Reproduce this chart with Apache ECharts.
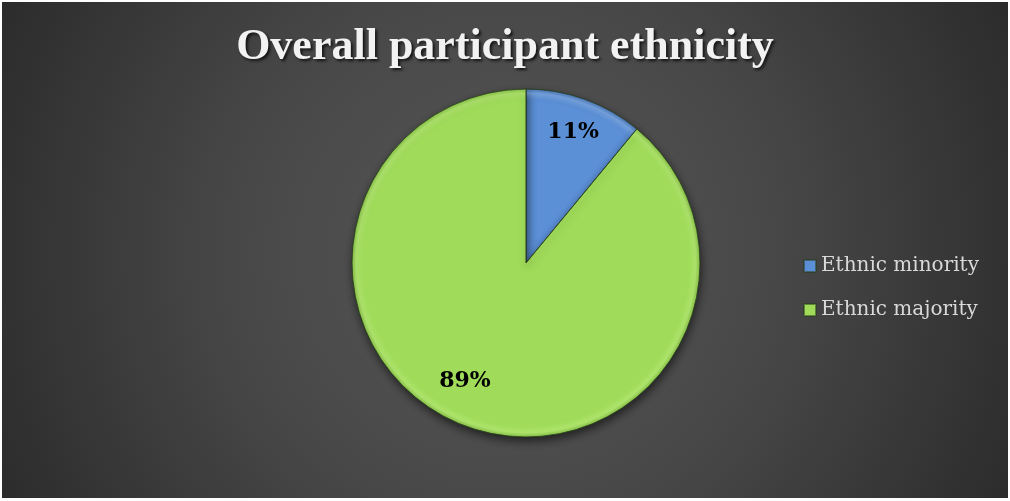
<!DOCTYPE html>
<html>
<head>
<meta charset="utf-8">
<script src="https://cdn.jsdelivr.net/npm/echarts@6/dist/echarts.min.js"></script>
<style>
  html, body { margin: 0; padding: 0; background: #ffffff; }
  #chart { position: absolute; left: 2px; top: 2px; width: 1006px; height: 496px; }
</style>
</head>
<body>
<div id="chart"></div>
<script>
// Participant ethnicity shares (percent)
const categories = ['Ethnic minority', 'Ethnic majority'];
const shares = [11, 89];
const sliceColors = ['#5b8fd6', '#a0dc5a'];
const titleText = 'Overall participant ethnicity';

const serif = '"DejaVu Serif", "Liberation Serif", serif';
const titleSerif = '"Liberation Serif", "DejaVu Serif", serif';

const CX = 524, CY = 261, R = 174;

// slightly bevelled rim, in chart pixel space so every slice shares it
function bevel(base, light, dark) {
  return {
    type: 'radial', x: CX, y: CY, r: R, global: true,
    colorStops: [
      { offset: 0, color: base },
      { offset: 0.94, color: base },
      { offset: 0.975, color: light },
      { offset: 1, color: dark }
    ]
  };
}
const fills = [
  bevel('#5b8fd6', '#76a3e0', '#4a78b8'),
  bevel('#a0dc5a', '#aee46c', '#88c248')
];

const pieData = categories.map((name, i) => ({
  name,
  value: shares[i],
  itemStyle: { color: fills[i] }
}));

const chart = echarts.init(document.getElementById('chart'));
chart.setOption({
  backgroundColor: {
    type: 'radial', x: 503, y: 250, r: 620, global: true,
    colorStops: [
      { offset: 0, color: '#575757' },
      { offset: 0.45, color: '#474747' },
      { offset: 1, color: '#262626' }
    ]
  },
  color: sliceColors,
  title: {
    text: titleText,
    left: 'center',
    top: 19,
    textStyle: {
      fontFamily: titleSerif,
      fontWeight: 'bold',
      fontSize: 44,
      color: '#f2f2f2',
      textShadowColor: 'rgba(0,0,0,0.75)',
      textShadowBlur: 3,
      textShadowOffsetX: 2,
      textShadowOffsetY: 2
    }
  },
  legend: {
    orient: 'vertical',
    left: 801,
    top: 254,
    padding: 0,
    itemGap: 24,
    itemWidth: 12,
    itemHeight: 12,
    icon: 'rect',
    textStyle: {
      fontFamily: serif,
      fontSize: 20,
      color: '#d9d9d9',
      padding: [0, 0, 0, 0]
    },
    data: categories.map((name, i) => ({
      name,
      itemStyle: { color: sliceColors[i] }
    }))
  },
  series: [
    {
      type: 'pie',
      center: [CX, CY],
      radius: R,
      startAngle: 90,
      clockwise: true,
      silent: true,
      label: { show: false },
      labelLine: { show: false },
      itemStyle: {
        borderColor: 'rgba(40,60,30,0.55)',
        borderWidth: 1,
        shadowColor: 'rgba(0,0,0,0.55)',
        shadowBlur: 8,
        shadowOffsetX: 1,
        shadowOffsetY: 4
      },
      data: pieData
    },
    {
      // transparent ring that carries the percentage labels further out
      type: 'pie',
      center: [CX, CY],
      radius: [100, 172],
      startAngle: 90,
      clockwise: true,
      silent: true,
      legendHoverLink: false,
      itemStyle: { color: 'rgba(0,0,0,0)', borderWidth: 0 },
      labelLine: { show: false },
      label: {
        show: true,
        position: 'inside',
        formatter: '{c}%',
        fontFamily: serif,
        fontWeight: 'bold',
        fontSize: 22,
        color: '#000000'
      },
      data: categories.map((name, i) => ({
        name: name + ' ',
        value: shares[i],
        label: i === 1 ? { offset: [-14, -13] } : {}
      }))
    }
  ]
});
</script>
</body>
</html>
